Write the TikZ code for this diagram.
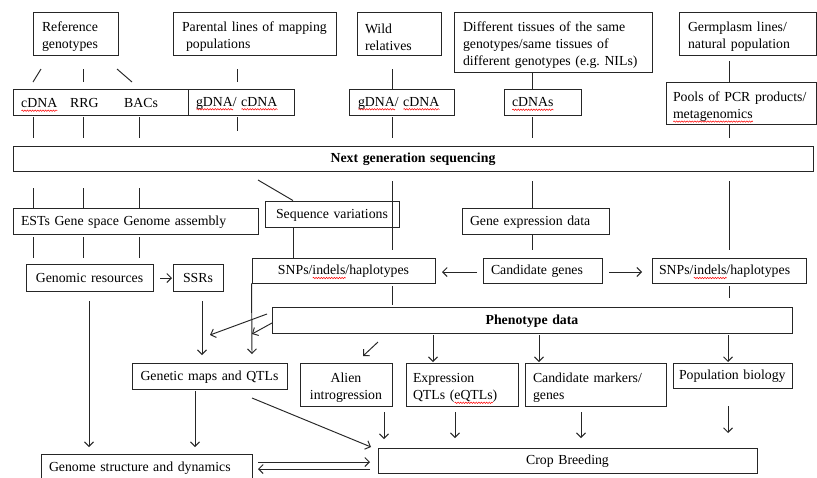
\documentclass[tikz,border=0pt]{standalone}
\usepackage{fontspec}
\setmainfont{Liberation Serif}
\usetikzlibrary{arrows.meta,calc,decorations.pathmorphing}
\newlength\sqw
\newcommand\squig[1]{\settowidth\sqw{#1}\leavevmode\rlap{\smash{\tikz[baseline=0pt,x=1pt,y=1pt]\draw[red,line width=0.5pt,decorate,decoration={snake,amplitude=0.7pt,segment length=2.6pt}] (0,-3.2) -- (\sqw,-3.2);}}#1}
\definecolor{lc}{HTML}{262626}
\tikzset{
  ln/.style={draw=lc, line width=0.95pt},
  ar/.style={ln, -{Straight Barb[length=4.5pt,width=9pt]}},
  box/.style={ln, fill=white, inner ysep=0pt, font=\fontsize{13.8}{17}\selectfont},
  txt/.style={inner sep=0pt, font=\fontsize{13.8}{17}\selectfont},
  dn/.style={execute at end node={\par\vspace*{-#1}}},
  dn/.default=2pt,
  L/.style 2 args={box, minimum width=#1, inner xsep=#2,
    /utils/exec={\pgfmathsetmacro\tw{#1-2*#2}}, text width=\tw pt, align=left, dn},
  C/.style={box, minimum width=#1, inner xsep=2pt,
    /utils/exec={\pgfmathsetmacro\tw{#1-4}}, text width=\tw pt, align=center, dn}
}
\begin{document}
\begin{tikzpicture}[x=1pt,y=-1pt]
\useasboundingbox[fill=white] (0,0) rectangle (817,477);
% top row
\node[L={85}{9}, minimum height=43, dn=5pt] (ref) at (75.5,33.5) {Reference\\genotypes};
\node[L={163}{9}, minimum height=43, dn=5pt] (par) at (254.5,33.5) {Parental~lines~of~mapping\\\hspace*{4pt}populations};
\node[L={84}{8}, minimum height=43, dn=5pt] (wild) at (399,33.5) {Wild\\relatives};
\node[L={198}{9}, minimum height=60, dn=5pt] (diff) at (553,42) {Different~tissues~of~the~same\\genotypes/same~tissues~of\\different~genotypes~(e.g.~NILs)};
\node[L={137}{9}, minimum height=43, dn=5pt] (germ) at (747.5,33.5) {Germplasm~lines/\\natural~population};
% second row
\node[box, minimum width=175, minimum height=26] (row) at (100.5,102) {};
\node[txt, anchor=base west] (cdna) at (21,107.5) {\squig{cDNA}};
\node[txt, anchor=base west] (rrg) at (70,107.5) {RRG};
\node[txt, anchor=base west] (bacs) at (124,107.5) {BACs};
\node[L={106}{8}, minimum height=26] (gc1) at (241,102) {\squig{gDNA}/~\squig{cDNA}};
\node[L={105}{9}, minimum height=26] (gc2) at (401.5,102) {\squig{gDNA}/~\squig{cDNA}};
\node[L={77}{8}, minimum height=26] (cdnas) at (542.5,102) {\squig{cDNAs}};
\node[L={150}{7}, minimum height=42, dn=5pt] (pools) at (741,103) {Pools~of~PCR~products/\\\squig{metagenomics}};
% NGS
\node[C={800}, minimum height=25] (ngs) at (413,158.5) {\textbf{Next generation sequencing}};
\node[L={245}{8}, minimum height=26] (ests) at (135.5,221) {ESTs~Gene~space~Genome~assembly};
\node[C={134}, minimum height=26] (seqvar) at (332,214) {Sequence variations};
\node[L={147}{8}, minimum height=26] (genexp) at (535.5,221) {Gene~expression~data};
\node[C={127}, minimum height=27] (genres) at (89.5,277.5) {Genomic resources};
\node[C={50}, minimum height=27] (ssrs) at (198,277.5) {SSRs};
\node[C={183}, minimum height=25] (snps1) at (343.5,270.5) {SNPs/\squig{indels}/haplotypes};
\node[L={119}{8}, minimum height=25] (candg) at (542.5,270.5) {Candidate~genes};
\node[L={154}{7}, minimum height=25] (snps2) at (729,270.5) {SNPs/\squig{indels}/haplotypes};
\node[C={520}, minimum height=26] (pheno) at (532,320) {\textbf{Phenotype data}};
\node[C={155}, minimum height=26] (genmap) at (209.5,376) {Genetic maps and QTLs};
\node[C={92}, minimum height=43, dn=5pt] (alien) at (346,384.5) {Alien\\introgression};
\node[L={112}{7}, minimum height=43, dn=5pt] (eqtl) at (462,384.5) {Expression\\QTLs~(\squig{eQTLs})};
\node[L={141}{8}, minimum height=43, dn=5pt] (candm) at (595.5,384.5) {Candidate~markers/\\genes};
\node[L={119}{6}, minimum height=25] (popbio) at (732.5,375.5) {Population~biology};
\node[C={379}, minimum height=25] (crop) at (567.5,460.5) {Crop Breeding};
\node[L={211}{8}, minimum height=26] (genome) at (146.5,467) {Genome~structure~and~dynamics};
% connectors, top
\draw[ln] (41,69) -- (33,82);
\draw[ln] (83,69) -- (83,82);
\draw[ln] (117,69) -- (132,82);
\draw[ln] (237,69) -- (237,82);
\draw[ln] (392,69) -- (392,0 |- gc2.north);
\draw[ln] (532,0 |- diff.south) -- (532,0 |- cdnas.north);
\draw[ln] (729,61) -- (729,0 |- pools.north);
\foreach \x in {33,83,139} \draw[ln] (\x,117) -- (\x,138);
\draw[ln] (237,117) -- (237,131);
\draw[ln] (392,117) -- (392,138);
\draw[ln] (532,117) -- (532,138);
\draw[ln] (729,0 |- pools.south) -- (729,138);
% below NGS
\foreach \x in {33,83,139} \draw[ln] (\x,188) -- (\x,0 |- ests.north);
\draw[ln] (258,180) -- (293,0 |- seqvar.north);
\draw[ln] (392,181) -- (392,250);
\draw[ln] (532,181) -- (532,0 |- genexp.north);
\draw[ln] (532,0 |- genexp.south) -- (532,250);
\draw[ln] (729,181) -- (729,250);
\foreach \x in {33,83,139} \draw[ln] (\x,237) -- (\x,258);
\draw[ln] (293,0 |- seqvar.south) -- (293,0 |- snps1.north);
\draw[ar] (477,272) -- (442,272);
\draw[ar] (609,272) -- (642,272);
\draw[ar] (160,278) -- (172,278);
\draw[ln] (392,286) -- (392,305);
\draw[ln] (729,286) -- (729,298);
% lower part
\draw[ar] (89,301) -- (89,447);
\draw[ar] (202,301) -- (202,355);
\draw[ar] (snps1.south west) -- (252,354);
\draw[ar] (267,314) -- (210,335);
\draw[ar] (272,323) -- (252,334);
\draw[ar] (378,342) -- (363,356);
\draw[ar] (433,335) -- (433,362);
\draw[ar] (539,335) -- (539,362);
\draw[ar] (728,335) -- (728,362);
\draw[ar] (195,391) -- (195,447);
\draw[ar] (252,398) -- (371,447);
\draw[ar] (384,412) -- (384,439);
\draw[ar] (455,412) -- (455,438);
\draw[ar] (581,412) -- (581,438);
\draw[ar] (728,406) -- (728,433);
\draw[ar] (258,462) -- (370,462);
\draw[ar] (370,469) -- (258,469);
\end{tikzpicture}
\end{document}
